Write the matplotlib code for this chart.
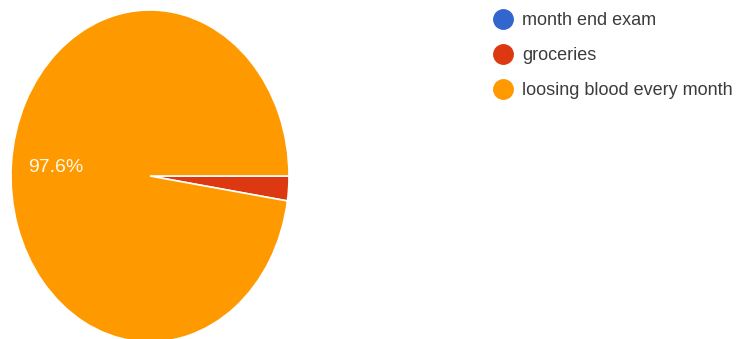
import matplotlib.pyplot as plt
from matplotlib.lines import Line2D

# data
labels = ["month end exam", "groceries", "loosing blood every month"]
shares = [0.0, 2.4, 97.6]
colors = ["#3366cc", "#dc3912", "#ff9900"]

plt.rcParams['font.family'] = ['Liberation Sans', 'DejaVu Sans']

W, H = 739, 339
fig = plt.figure(figsize=(W / 100, H / 100), dpi=100)

# pie is stretched vertically in the reference, so keep aspect auto
ax = fig.add_axes([11 / W, -3 / H, 278 / W, 332 / H])
wedges, texts, autotexts = ax.pie(
    shares, colors=colors, startangle=0, counterclock=False,
    autopct=lambda p: f"{p:.1f}%" if p > 5 else "",
    pctdistance=0.68,
    wedgeprops=dict(edgecolor="white", linewidth=1.2),
    textprops=dict(color="#fff8e8", fontsize=14),
)
ax.set_xlim(-1.0, 1.0)
ax.set_ylim(-1.0, 1.0)
ax.set_aspect("auto")
ax.axis("off")

# legend with round markers like Google Forms
handles = [Line2D([], [], linestyle="none", marker="o", markersize=14,
                  markerfacecolor=c, markeredgecolor=c) for c in colors]
fig.legend(handles, labels, loc="upper left",
           bbox_to_anchor=(490 / W, 1 - 12 / H), frameon=False,
           fontsize=13, labelcolor="#3c3c3c", handletextpad=0.4,
           labelspacing=1.0, borderaxespad=0, borderpad=0,
           handlelength=1.4)

fig.savefig("out.png", dpi=100)
